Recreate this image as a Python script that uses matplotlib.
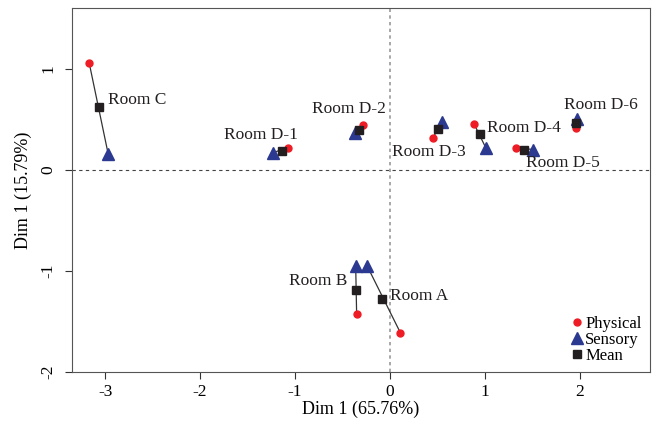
import numpy as np
import matplotlib.pyplot as plt

plt.rcParams['font.family'] = ['Liberation Serif', 'DejaVu Serif']
plt.rcParams['axes.unicode_minus'] = False

# coordenades llegides del grafic
rooms = ['Room A', 'Room B', 'Room C', 'Room D-1', 'Room D-2',
         'Room D-3', 'Room D-4', 'Room D-5', 'Room D-6']
phys_x = [0.11, -0.35, -3.17, -1.07, -0.28, 0.45, 0.89, 1.33, 1.96]
phys_y = [-1.61, -1.43, 1.06, 0.22, 0.44, 0.31, 0.45, 0.22, 0.41]
sens_x = [-0.24, -0.36, -2.97, -1.23, -0.37, 0.55, 1.01, 1.51, 1.97]
sens_y = [-0.95, -0.95, 0.16, 0.17, 0.36, 0.47, 0.22, 0.20, 0.50]
mean_x = [-0.08, -0.36, -3.07, -1.14, -0.32, 0.51, 0.95, 1.41, 1.96]
mean_y = [-1.28, -1.19, 0.62, 0.19, 0.39, 0.40, 0.35, 0.20, 0.46]
# posicio de les etiquetes
lab_x = [0.0, -0.45, -2.97, -1.75, -0.82, 0.02, 1.02, 1.44, 1.84]
lab_y = [-1.25, -1.1, 0.69, 0.34, 0.6, 0.18, 0.41, 0.07, 0.64]
lab_ha = ['left', 'right', 'left', 'left', 'left', 'left', 'left', 'left', 'left']

fig = plt.figure(figsize=(6.55, 4.33), dpi=100)
ax = fig.add_axes([0.11, 0.141, 0.882, 0.8405])

ax.axhline(0, color='#444444', ls=(0, (3, 3)), lw=0.8, zorder=1)
ax.axvline(0, color='#999999', ls=(0, (2, 2)), lw=1.2, zorder=1)

for i in range(len(rooms)):
    ax.plot([phys_x[i], sens_x[i]], [phys_y[i], sens_y[i]], '-',
            color='#333333', lw=0.9, zorder=2)

ax.plot(phys_x, phys_y, 'o', color='#ee1c25', ms=5, ls='none',
        label='Physical', zorder=3)
ax.plot(sens_x, sens_y, '^', color='#2b3990', ms=8, ls='none',
        label='Sensory', zorder=3)
ax.plot(mean_x, mean_y, 's', color='#231f20', ms=6, ls='none',
        label='Mean', zorder=4)

for i in range(len(rooms)):
    ax.text(lab_x[i], lab_y[i], rooms[i], fontsize=12.5, ha=lab_ha[i],
            va='center', color='#231f20')

ax.set_xlim(-3.35, 2.74)
ax.set_ylim(-2, 1.6)
ax.set_xticks([-3, -2, -1, 0, 1, 2])
ax.set_yticks([-2, -1, 0, 1])
ax.tick_params(labelsize=12.5, length=5, color='#333333')
ax.tick_params(axis='y', pad=6)
for t in ax.get_yticklabels():
    t.set_rotation(90)
    t.set_va('center')
ax.set_xlabel('Dim 1 (65.76%)', fontsize=13, labelpad=1)
ax.set_ylabel('Dim 1 (15.79%)', fontsize=13, labelpad=6)
for s in ax.spines.values():
    s.set_color('#555555')

ax.legend(loc='lower right', frameon=False, fontsize=12, handlelength=0.6,
          handletextpad=0.2, labelspacing=0.0, borderaxespad=0.3,
          borderpad=0.2)

fig.savefig('out.png', dpi=100)
